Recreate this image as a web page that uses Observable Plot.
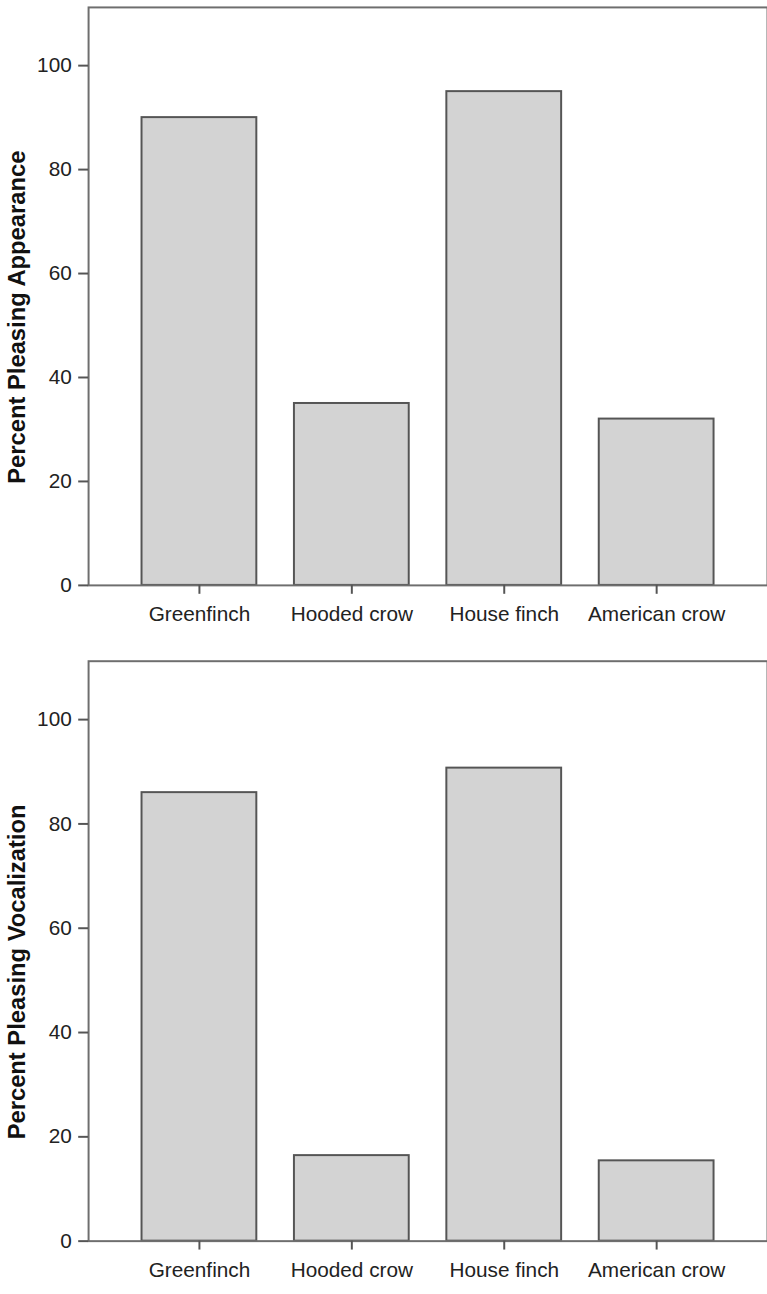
<!DOCTYPE html>
<html>
<head>
<meta charset="utf-8">
<script src="https://cdn.jsdelivr.net/npm/d3@7"></script>
<script src="https://cdn.jsdelivr.net/npm/@observablehq/plot@0.6"></script>
<style>
  html, body { margin: 0; padding: 0; background: #fff; overflow: hidden; width: 767px; }
  #chart svg { display: block; }
</style>
</head>
<body>
<div id="chart"></div>
<script>
const birds = ["Greenfinch", "Hooded crow", "House finch", "American crow"];
const appearance = [90, 35, 95, 32];
const vocalization = [86, 16.4, 90.7, 15.4];
const yTicks = [0, 20, 40, 60, 80, 100];
const yMax = 111.2;
const labels = ["Percent Pleasing Appearance", "Percent Pleasing Vocalization"];

const font = "'Liberation Sans', Arial, Helvetica, sans-serif";

function panel(values, label, height, marginTop, marginBottom) {
  const data = birds.map((b, i) => ({bird: b, value: values[i]}));
  return Plot.plot({
    width: 775,
    height,
    marginLeft: 89,
    marginRight: 0,
    marginTop,
    marginBottom,
    style: {fontFamily: font, fontSize: "21px", color: "#222", background: "#fff", overflow: "hidden"},
    x: {domain: birds, paddingInner: 0.25, paddingOuter: 0.35, label: null},
    y: {domain: [0, yMax], label: null},
    marks: [
      Plot.barY(data, {x: "bird", y: "value", fill: "#d3d3d3", stroke: "#555", strokeWidth: 2}),
      Plot.frame({stroke: "#6e6e6e", strokeWidth: 2}),
      Plot.axisX({tickSize: 9, tickPadding: 12, stroke: "#555", strokeWidth: 2, fontSize: 21, fill: "#222", label: null}),
      Plot.axisY({ticks: yTicks, tickSize: 10, tickPadding: 7, stroke: "#555", strokeWidth: 2, fontSize: 21, fill: "#222", label: null}),
      Plot.text([label], {text: d => d, frameAnchor: "left", textAnchor: "middle", rotate: -90, dx: -72, dy: 21, fontWeight: "bold", fontSize: 24, fill: "#111"})
    ]
  });
}

const chart = document.getElementById("chart");
chart.appendChild(panel(appearance, labels[0], 640, 7, 49));
chart.appendChild(panel(vocalization, labels[1], 654, 28, 40));
</script>
</body>
</html>
